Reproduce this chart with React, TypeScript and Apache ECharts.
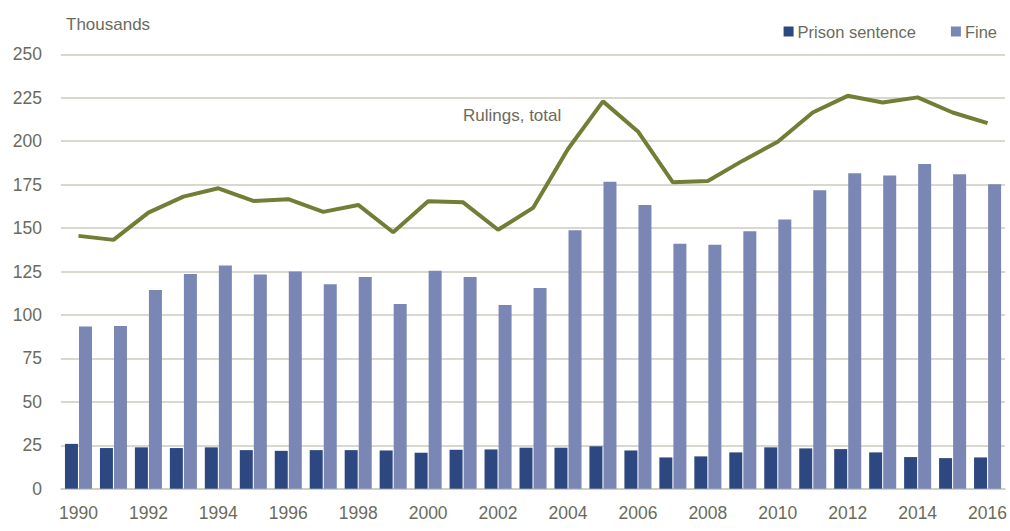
import React, { useEffect, useRef } from "react";
import * as echarts from "echarts";

const years = [
  "1990", "1991", "1992", "1993", "1994", "1995", "1996", "1997", "1998", "1999",
  "2000", "2001", "2002", "2003", "2004", "2005", "2006", "2007", "2008", "2009",
  "2010", "2011", "2012", "2013", "2014", "2015", "2016",
];
const prison = [
  25.8, 23.4, 23.8, 23.4, 23.8, 22.2, 21.8, 22.2, 22.2, 22.0,
  20.7, 22.4, 22.6, 23.6, 23.6, 24.4, 22.0, 18.0, 18.6, 20.9,
  23.8, 23.2, 22.8, 20.9, 18.2, 17.6, 18.0,
];
const fine = [
  93.3, 93.6, 114.3, 123.5, 128.5, 123.3, 125.0, 117.6, 121.8, 106.3,
  125.4, 121.8, 105.7, 115.5, 148.8, 176.7, 163.3, 140.9, 140.4, 148.2,
  154.9, 171.7, 181.5, 180.2, 186.9, 181.0, 175.2,
];
const rulingsTotal = [
  145.5, 143.2, 158.9, 168.1, 172.9, 165.6, 166.6, 159.3, 163.3, 147.6,
  165.4, 164.8, 149.0, 161.6, 195.5, 222.9, 205.6, 176.3, 177.1, 188.8,
  199.7, 216.5, 226.1, 222.3, 225.2, 216.5, 210.4,
];

const FONT = "'Liberation Sans', Arial, sans-serif";
const TEXT = "#6b6b5c";
const GRID = "#cbcbbf";

export default function App() {
  const ref = useRef<HTMLDivElement>(null);
  useEffect(() => {
    if (!ref.current) return;
    const chart = echarts.init(ref.current, undefined, { renderer: "svg" });
    chart.setOption({
      animation: false,
      textStyle: { fontFamily: FONT },
      grid: { left: 61, right: 3, top: 54.3, bottom: 42.3, containLabel: false },
      legend: {
        data: ["Prison sentence", "Fine"],
        right: 13,
        top: 23,
        padding: 0,
        icon: "rect",
        itemWidth: 10,
        itemHeight: 10,
        itemGap: 35,
        textStyle: { color: TEXT, fontSize: 16.5, fontFamily: FONT, padding: [0, 0, 0, -1] },
      },
      graphic: [
        {
          type: "text",
          left: 66,
          top: 16,
          style: { text: "Thousands", fill: TEXT, font: `17px ${FONT}` },
        },
        {
          type: "text",
          left: 463,
          top: 107,
          style: { text: "Rulings, total", fill: TEXT, font: `17px ${FONT}` },
        },
      ],
      xAxis: {
        type: "category",
        data: years,
        axisLine: { lineStyle: { color: GRID, width: 1.5 } },
        axisTick: { show: false },
        axisLabel: { interval: 1, color: TEXT, fontSize: 17.5, margin: 15, fontFamily: FONT },
      },
      yAxis: {
        type: "value",
        min: 0,
        max: 250,
        interval: 25,
        axisLine: { show: false },
        axisTick: { show: false },
        axisLabel: { color: TEXT, fontSize: 17.5, margin: 19, fontFamily: FONT },
        splitLine: { lineStyle: { color: GRID, width: 1.5 } },
      },
      series: [
        {
          name: "Prison sentence",
          type: "bar",
          data: prison,
          barWidth: 13,
          barGap: "8%",
          itemStyle: { color: "#2d4880" },
        },
        {
          name: "Fine",
          type: "bar",
          data: fine,
          barWidth: 13,
          itemStyle: { color: "#7a86b3" },
        },
        {
          name: "Rulings, total",
          type: "line",
          data: rulingsTotal,
          symbol: "none",
          lineStyle: { color: "#707f35", width: 4 },
          z: 5,
        },
      ],
    });
    return () => chart.dispose();
  }, []);
  return (
    <div
      ref={ref}
      style={{ position: "absolute", left: 0, top: 0, width: 1010, height: 531, overflow: "hidden" }}
    />
  );
}
